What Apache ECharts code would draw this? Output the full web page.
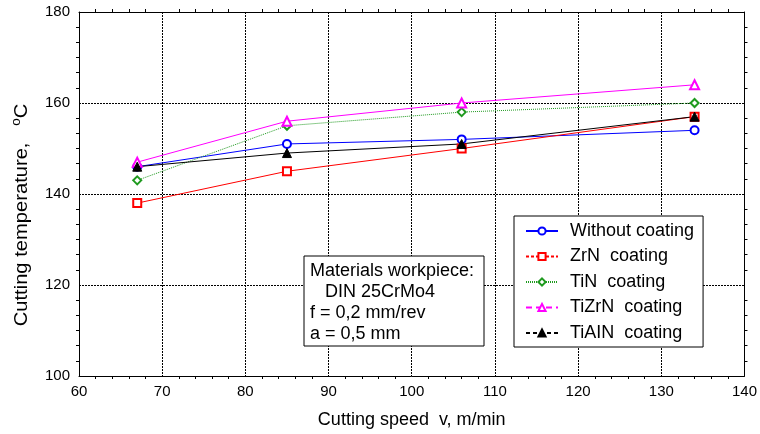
<!DOCTYPE html>
<html>
<head>
<meta charset="utf-8">
<script src="https://cdn.jsdelivr.net/npm/echarts@6/dist/echarts.min.js"></script>
<style>
  html, body { margin: 0; padding: 0; background: #fff; }
  #chart { width: 760px; height: 434px; }
</style>
</head>
<body>
<div id="chart"></div>
<script>
// Cutting speed, m/min
const speeds = [67, 85, 106, 134];

// Cutting temperature, °C, for each coating
const withoutCoating = [146, 151, 152, 154];
const zrnCoating     = [138, 145, 150, 157];
const tinCoating     = [143, 155, 158, 160];
const tizrnCoating   = [147, 156, 160, 164];
const tialnCoating   = [146, 149, 151, 157];

const seriesNames = ['Without coating', 'ZrN  coating', 'TiN  coating', 'TiZrN  coating', 'TiAIN  coating'];

const xMin = 60, xMax = 140, xStep = 10;
const yMin = 100, yMax = 180, yStep = 20;

const noteLines = ['Materials workpiece:', '   DIN 25CrMo4', 'f = 0,2 mm/rev', 'a = 0,5 mm'];

const FONT = 'Arial, "Liberation Sans", sans-serif';

function pairs(values) {
  return speeds.map((v, i) => [v, values[i]]);
}

function makeSeries(name, values, color, symbol, size, lineType) {
  return {
    name: name,
    type: 'line',
    data: pairs(values),
    symbol: symbol,
    symbolSize: size,
    showSymbol: true,
    lineStyle: { color: color, width: 1, type: lineType },
    itemStyle: { color: color, borderColor: color, borderWidth: 1 },
    emphasis: { disabled: true },
    z: 3
  };
}

const chart = echarts.init(document.getElementById('chart'), null, { renderer: 'canvas' });

const gridLine = { show: true, lineStyle: { color: '#000', width: 1, type: [2, 1] } };
const axisLineStyle = { show: true, lineStyle: { color: '#000', width: 1 } };
const minor = (n) => ({ show: true, splitNumber: n, length: 3, inside: true, lineStyle: { color: '#000' } });

const option = {
  animation: false,
  backgroundColor: '#fff',
  textStyle: { fontFamily: FONT },
  grid: { left: 79, right: 13, top: 12, bottom: 58, containLabel: false },
  xAxis: [{
    type: 'value', min: xMin, max: xMax, interval: xStep,
    axisLine: axisLineStyle,
    axisTick: { show: false },
    minorTick: minor(5),
    axisLabel: { color: '#000', fontSize: 15, margin: 8, fontFamily: FONT },
    splitLine: gridLine,
    name: 'Cutting speed  v, m/min',
    nameLocation: 'middle', nameGap: 35,
    nameTextStyle: { color: '#000', fontSize: 18, fontFamily: FONT }
  }, {
    type: 'value', position: 'top', min: xMin, max: xMax, interval: xStep,
    axisLine: axisLineStyle,
    axisTick: { show: false },
    minorTick: minor(5),
    axisLabel: { show: false },
    splitLine: { show: false }
  }],
  yAxis: [{
    type: 'value', min: yMin, max: yMax, interval: yStep,
    axisLine: axisLineStyle,
    axisTick: { show: false },
    minorTick: minor(6),
    axisLabel: { color: '#000', fontSize: 15, margin: 9, fontFamily: FONT },
    splitLine: gridLine
  }, {
    type: 'value', position: 'right', min: yMin, max: yMax, interval: yStep,
    axisLine: axisLineStyle,
    axisTick: { show: false },
    minorTick: minor(6),
    axisLabel: { show: false },
    splitLine: { show: false }
  }],
  legend: {
    orient: 'vertical',
    left: 514, top: 216,
    padding: [6, 9, 5, 11],
    itemGap: 7.5,
    itemWidth: 32, itemHeight: 9,
    backgroundColor: '#fff',
    borderColor: '#000', borderWidth: 1, borderRadius: 0,
    textStyle: { color: '#000', fontSize: 18, fontFamily: FONT, padding: [0, 0, 0, 7] },
    selectedMode: false,
    data: [
      { name: seriesNames[0], lineStyle: { type: 'solid' } },
      { name: seriesNames[1], lineStyle: { type: [3, 2] } },
      { name: seriesNames[2], lineStyle: { type: [1, 1] } },
      { name: seriesNames[3], lineStyle: { type: [6, 4] } },
      { name: seriesNames[4], lineStyle: { type: [4, 3] } }
    ],
    z: 10
  },
  series: [
    makeSeries(seriesNames[0], withoutCoating, '#0000ff', 'emptyCircle', 8, 'solid'),
    makeSeries(seriesNames[1], zrnCoating, '#ff0000', 'emptyRect', 8, 'solid'),
    makeSeries(seriesNames[2], tinCoating, '#1f9a1f', 'emptyDiamond', 8, [1, 1]),
    makeSeries(seriesNames[3], tizrnCoating, '#ff00ff', 'emptyTriangle', 9, 'solid'),
    makeSeries(seriesNames[4], tialnCoating, '#000000', 'triangle', 9, 'solid')
  ],
  graphic: [
    {
      // rotated y-axis title with a raised degree mark
      type: 'text', z: 5,
      x: 22, y: 215, rotation: Math.PI / 2, scaleX: 1.12,
      style: {
        text: 'Cutting temperature,   {sup|o}C',
        fill: '#000', font: '18px ' + FONT,
        align: 'center', verticalAlign: 'middle',
        rich: {
          sup: { fontSize: 12, fontFamily: FONT, fill: '#000', padding: [0, 0, 10, 0] }
        }
      }
    },
    // boxed note with the machining conditions
    { type: 'rect', z: 8, shape: { x: 304, y: 256, width: 180, height: 90 },
      style: { fill: '#fff', stroke: '#000', lineWidth: 1 } },
    ...noteLines.map((line, i) => ({
      type: 'text', z: 9, x: 310, y: 271 + i * 21,
      style: { text: line, fill: '#000', font: '18px ' + FONT, verticalAlign: 'middle' }
    }))
  ]
};

chart.setOption(option);
</script>
</body>
</html>
